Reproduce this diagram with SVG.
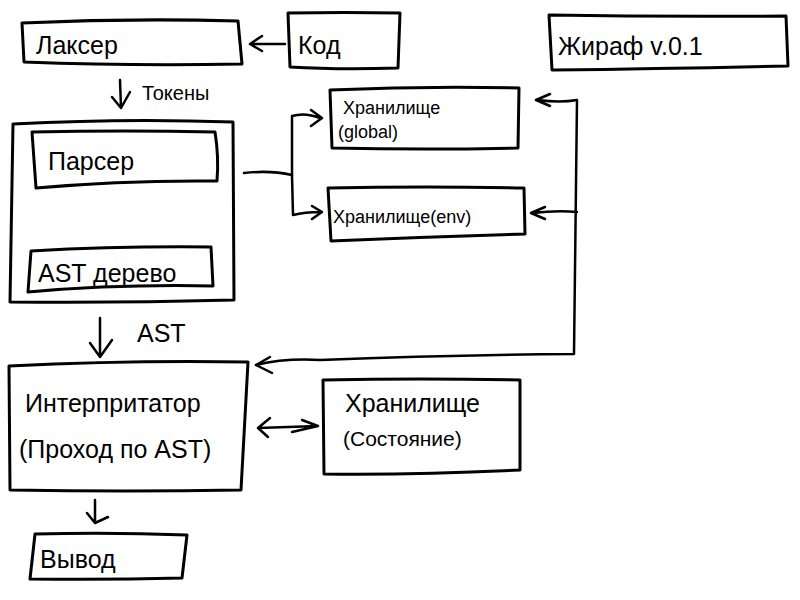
<svg xmlns="http://www.w3.org/2000/svg" width="800" height="600" viewBox="0 0 800 600">
<style>
.b{fill:none;stroke:#000;stroke-width:3;stroke-linecap:round;stroke-linejoin:round}
.c{fill:none;stroke:#000;stroke-width:2.5;stroke-linecap:round;stroke-linejoin:round}
text{font-family:"Liberation Sans","DejaVu Sans",sans-serif;fill:#000}
.t{font-size:25px}
.s{font-size:17px}
</style>
<rect width="800" height="600" fill="#fff"/>
<g id="lexer"><path class="b" d="M22,23 Q130,18 238,21 L242,64 Q130,66 24,62 Z"/><text class="t" x="36" y="54">Лаксер</text></g>
<g id="code"><path class="b" d="M288,13 Q345,12 400,13 L398,68 Q340,70 290,67 Z"/><text class="t" x="298" y="54">Код</text></g>
<g id="giraffe"><path class="b" d="M549,15 Q665,17 786,16 L788,66 Q665,69 552,70 Z"/><text class="t" x="558" y="55">Жираф v.0.1</text></g>
<g id="parser-group"><path class="b" d="M13,124 Q125,118 233,122 L234,300 Q120,303 10,302 Z"/></g>
<g id="parser"><path class="b" d="M32,132 Q125,130 215,132 Q219,157 217,181 Q125,180 36,188 Z"/><text class="t" x="48" y="170">Парсер</text></g>
<g id="ast-tree"><path class="b" d="M31,251 Q120,246 211,247 L213,286 Q120,284 28,292 Z"/><text class="t" x="38" y="282">AST дерево</text></g>
<g id="store-global"><path class="b" d="M330,90 Q425,86 519,88 L518,148 Q425,150 332,148 Z"/><text class="s" x="343" y="114" style="font-size:18px">Хранилище</text><text class="s" x="338" y="138" style="font-size:18px">(global)</text></g>
<g id="store-env"><path class="b" d="M328,188 Q425,186 524,188 L525,234 Q425,237 331,241 Z"/><text class="s" x="333" y="223" style="font-size:18px">Хранилище(env)</text></g>
<g id="interpreter"><path class="b" d="M9,366 Q130,360 248,362 L241,490 Q125,492 10,490 Z"/><text class="t" x="25" y="412">Интерпритатор</text><text class="t" x="19" y="458">(Проход по AST)</text></g>
<g id="store-state"><path class="b" d="M323,380 Q420,378 520,380 L520,470 Q420,475 324,474 Z"/><text class="t" x="345" y="412">Хранилище</text><text class="s" x="343" y="446" style="font-size:21px">(Состояние)</text></g>
<g id="output"><path class="b" d="M35,534 Q110,532 187,535 L182,578 Q105,580 30,579 Z"/><text class="t" x="40" y="568">Вывод</text></g>
<g id="connectors">
<path class="c" d="M285,44 L250,44 M262,36 L250,44 L262,51"/>
<path class="c" d="M120,80 L121,108 M112,97 L121,108 L130,92"/>
<text class="s" x="142" y="100" style="font-size:20px">Токены</text>
<path class="c" d="M244,173 Q270,170 292,175 L292,116 Q305,112 320,118 M311,110 L322,118 L311,126"/>
<path class="c" d="M292,175 L293,215 Q305,212 320,212 M312,206 L322,212 L312,219"/>
<path class="c" d="M100,318 L100,357 M90,343 L100,357 L112,340"/>
<text class="t" x="137" y="342">AST</text>
<path class="c" d="M256,365 Q285,358 320,360 Q450,355 574,354 L577,100 Q560,103 538,100 M550,94 L536,100 L550,106"/>
<path class="c" d="M270,357 L256,365 L272,373"/>
<path class="c" d="M577,212 Q558,210 532,213 M545,207 L531,213 L545,219"/>
<path class="c" d="M258,428 L318,426 M270,418 L258,428 L268,437 M302,420 L318,426 L292,432"/>
<path class="c" d="M95,500 L95,523 M87,513 L95,523 L108,517"/>
</g>
</svg>
